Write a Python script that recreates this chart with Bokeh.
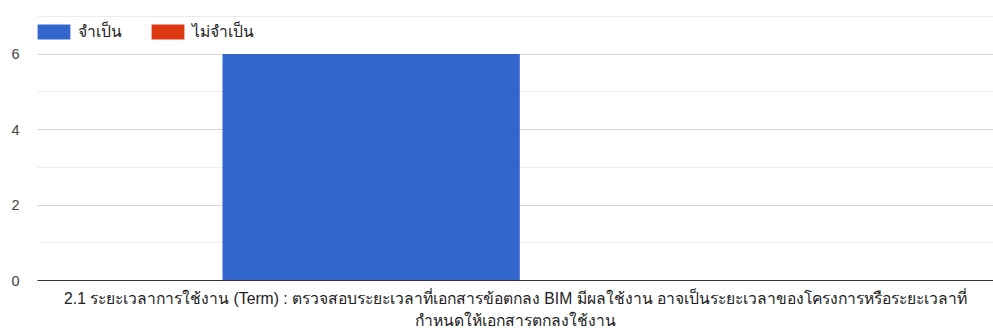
from bokeh.plotting import figure
from bokeh.embed import file_html
from bokeh.resources import INLINE
from bokeh.models import (ColumnDataSource, Range1d, FactorRange, SingleIntervalTicker,
                          Legend, LegendItem, CategoricalAxis)
from bokeh.transform import dodge

# category label, wrapped onto two lines as in the reference
category_label_lines = ["2.1 ระยะเวลาการใช้งาน (Term) : ตรวจสอบระยะเวลาที่เอกสารข้อตกลง BIM มีผลใช้งาน อาจเป็นระยะเวลาของโครงการหรือระยะเวลาที่",
                        "กำหนดให้เอกสารตกลงใช้งาน"]
categories = [category_label_lines[0]]
series_names = ["จำเป็น", "ไม่จำเป็น"]
necessary = [6]
not_necessary = [0]

FONT = "Liberation Sans"
LABEL_SIZE = "15.7px"

src = ColumnDataSource(dict(cat=categories, a=necessary, b=not_necessary))

p = figure(width=993, height=331, output_backend="svg", toolbar_location=None,
           x_range=FactorRange(*categories, range_padding=0), y_range=Range1d(0, 7.02),
           min_border_left=37, min_border_right=0, min_border_top=15, min_border_bottom=0)
p.outline_line_color = None

r1 = p.vbar(x=dodge("cat", -0.151, range=p.x_range), top="a", width=0.311, source=src,
            fill_color="#3366cc", line_color=None)
r2 = p.vbar(x=dodge("cat", 0.16, range=p.x_range), top="b", width=0.311, source=src,
            fill_color="#dc3912", line_color=None)

# y axis
p.yaxis.ticker = SingleIntervalTicker(interval=2, num_minor_ticks=2)
p.yaxis.axis_line_color = None
p.yaxis.major_tick_line_color = None
p.yaxis.minor_tick_line_color = None
p.yaxis.major_label_text_font = FONT
p.yaxis.major_label_text_font_size = "14.5px"
p.yaxis.major_label_text_color = "#444444"
p.yaxis.major_label_standoff = 12

p.ygrid.grid_line_color = "#d6d6d6"
p.ygrid.minor_grid_line_color = "#ececec"
p.xgrid.grid_line_color = None

# x axis: first line of category label
p.xaxis.axis_line_color = "#333333"
p.xaxis.major_tick_line_color = None
p.xaxis.minor_tick_line_color = None
p.xaxis.major_tick_out = 0
p.xaxis.major_label_text_font = FONT
p.xaxis.major_label_text_font_size = LABEL_SIZE
p.xaxis.major_label_text_color = "#222222"
p.xaxis.major_label_standoff = 9

# second line of category label via an extra categorical axis below
p.extra_x_ranges = {"line2": FactorRange(category_label_lines[1], range_padding=0)}
ax2 = CategoricalAxis(x_range_name="line2")
ax2.axis_line_color = None
ax2.major_tick_line_color = None
ax2.minor_tick_line_color = None
ax2.major_tick_out = 0
ax2.major_label_text_font = FONT
ax2.major_label_text_font_size = LABEL_SIZE
ax2.major_label_text_color = "#222222"
ax2.major_label_standoff = 2
p.add_layout(ax2, "below")

legend = Legend(items=[LegendItem(label=series_names[0], renderers=[r1]),
                       LegendItem(label=series_names[1], renderers=[r2])],
                location=(-4, 236), orientation="horizontal",
                glyph_width=41, glyph_height=19, spacing=25, label_standoff=4,
                padding=0, margin=0, border_line_color=None, background_fill_alpha=0,
                label_text_font=FONT, label_text_font_size=LABEL_SIZE, label_text_color="#222222")
p.add_layout(legend)

open("out.html", "w").write(file_html(p, INLINE))
